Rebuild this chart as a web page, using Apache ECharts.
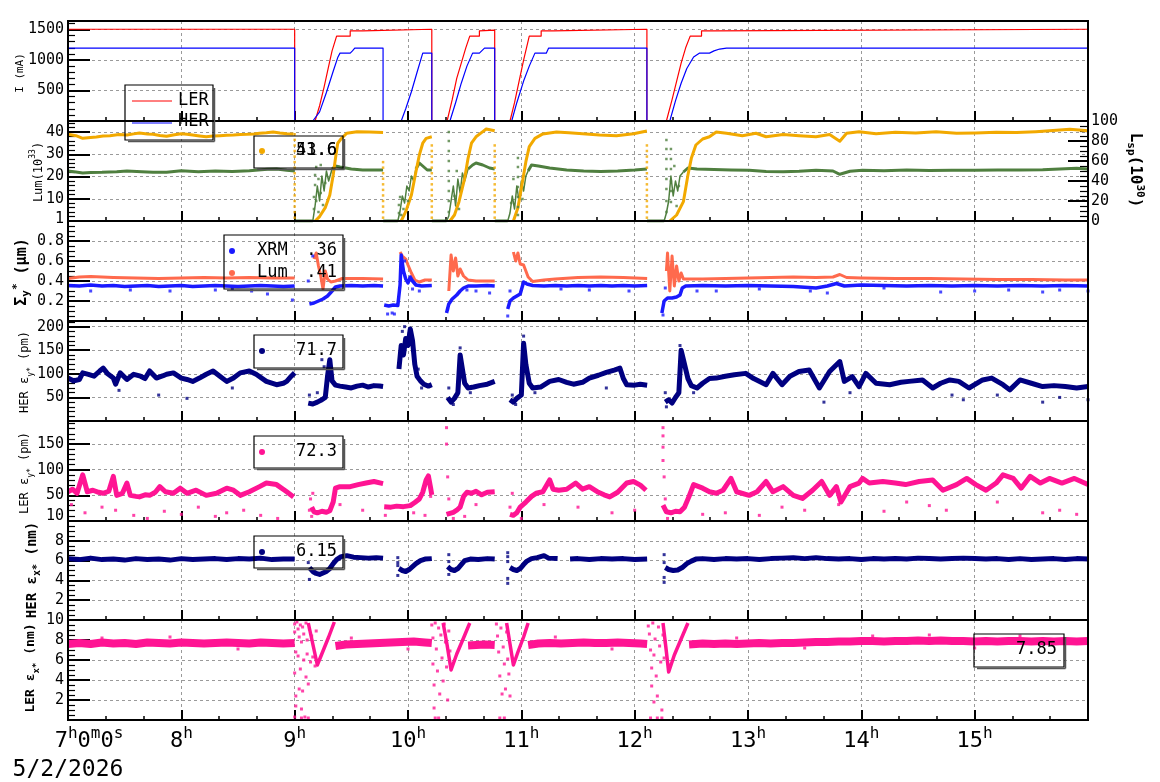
<!DOCTYPE html>
<html>
<head>
<meta charset="utf-8">
<script src="https://cdn.jsdelivr.net/npm/echarts@6/dist/echarts.min.js"></script>
<style>
html, body { margin: 0; padding: 0; background: #fff; }
#chart { width: 1160px; height: 782px; }
</style>
</head>
<body>
<div id="chart"></div>
<script>
// time axis is in hours of 5/2/2026

// beam currents (mA)
const lerCurrent = [
  [7.00,1505],[9.00,1505],[9.00,0],[9.18,0],[9.22,250],[9.26,560],[9.30,900],[9.33,1150],[9.37,1392],[9.49,1392],
  [9.49,1478],[9.60,1478],[9.60,1505],[10.21,1505],[10.21,0],[10.345,0],[10.39,350],[10.43,700],[10.47,950],[10.51,1200],
  [10.545,1392],[10.63,1392],[10.63,1478],[10.765,1490],[10.765,0],[10.90,0],[10.94,300],[10.98,650],[11.02,1000],[11.07,1392],
  [11.175,1392],[11.175,1478],[11.28,1478],[11.28,1505],[12.108,1505],[12.108,0],[12.28,0],[12.33,350],[12.37,650],[12.41,950],
  [12.45,1200],[12.49,1392],[12.59,1392],[12.59,1478],[12.69,1478],[12.69,1505],[16.00,1505]
]
const herCurrent = [
  [7.00,1195],[9.00,1195],[9.00,0],[9.16,0],[9.22,150],[9.28,468],[9.34,816],[9.38,1040],[9.40,1113],[9.49,1113],
  [9.51,1150],[9.53,1195],[9.78,1195],[9.78,0],[9.94,0],[9.98,200],[10.03,480],[10.08,800],[10.13,1113],[10.21,1113],
  [10.21,0],[10.37,0],[10.42,300],[10.47,620],[10.52,900],[10.57,1113],[10.63,1113],[10.675,1195],[10.765,1195],[10.765,0],
  [10.915,0],[10.96,300],[11.02,655],[11.07,900],[11.12,1113],[11.22,1113],[11.24,1195],[12.108,1195],[12.108,0],[12.31,0],
  [12.36,330],[12.41,620],[12.46,860],[12.52,1050],[12.57,1113],[12.66,1113],[12.70,1150],[12.75,1180],[12.81,1195],[16.00,1195]
]

// luminosity (10^33, left) and specific luminosity (10^30, right)
const lumValues = [
  [7.0,39.0],[7.07,38.4],[7.13,37.2],[7.2,37.6],[7.25,37.8],[7.31,38.2],[7.37,38.4],[7.45,38.9],[7.52,38.7],[7.58,39.2],
  [7.63,39.6],[7.7,39.2],[7.75,39.0],[7.81,38.5],[7.87,38.1],[7.94,38.8],[8.0,39.3],[8.05,39.0],[8.1,38.7],[8.16,38.3],
  [8.22,37.9],[8.28,38.2],[8.34,38.4],[8.4,38.6],[8.46,38.7],[8.52,38.9],[8.58,39.0],[8.64,39.2],[8.69,39.5],[8.75,39.7],
  [8.81,40.0],[8.87,39.6],[8.93,39.3],[8.99,39.1],[9.0,null],
  [9.18,0],[9.22,2],[9.27,6],[9.31,11.7],[9.34,20.7],[9.36,28.2],[9.38,35],[9.41,37],[9.46,39.5],[9.55,40.2],[9.66,40],[9.78,39.8],[9.79,null],
  [9.94,0],[9.98,4.2],[10.03,11.7],[10.07,22.2],[10.1,29.7],[10.13,35],[10.16,37.2],[10.21,37.9],[10.22,null],
  [10.37,0],[10.41,2.7],[10.45,8.7],[10.5,19.2],[10.53,28.2],[10.56,35],[10.6,37.9],[10.66,40.2],[10.69,41.4],[10.765,40.6],[10.77,null],
  [10.93,0],[10.97,6],[11.01,17.7],[11.04,26.7],[11.07,33.5],[11.12,37.2],[11.19,39.2],[11.31,40],[11.42,39.7],[11.54,39.3],
  [11.69,38.7],[11.84,38.4],[11.99,39.3],[12.108,40.5],[12.11,null],
  [12.31,0],[12.37,2.7],[12.43,8.7],[12.47,20.7],[12.5,28.2],[12.54,34.2],[12.6,36.9],[12.66,37.9],[12.72,40],[12.81,39.5],
  [12.95,38.4],[13.07,39.5],[13.16,37.9],[13.31,38.9],[13.45,38.4],[13.6,37.9],[13.72,38.9],[13.81,35.9],[13.87,39.5],[13.98,40.2],
  [14.13,39.3],[14.3,39.9],[14.48,39.6],[14.66,40.2],[14.84,39.5],[15.01,39.6],[15.19,39.9],[15.37,39.8],[15.54,40.2],[15.72,40.8],
  [15.84,41.3],[16.0,40.6]
]
const lumDropTimes = [9.0, 9.78, 10.21, 10.765, 12.108]
const lumDropTops = [40, 28, 35, 36, 34]
const lumDropLevels = [1.5, 4, 6.5, 9, 11.5, 14, 16.5, 19, 21.5, 24, 26.5, 29, 31.5, 34, 36.5, 39]

const lspValues = [
  [7.0,50],[7.07,49],[7.13,48],[7.2,48.5],[7.3,48.7],[7.43,49.3],[7.52,50],[7.65,49.3],[7.75,48.7],[7.87,48.7],
  [8.0,50.3],[8.15,49.3],[8.3,50],[8.45,49.6],[8.6,50.3],[8.76,51.7],[8.84,52],[8.93,50.7],[9.0,50],[9.0005,null],
  [9.001,0],[9.16,0],[9.1605,null],[9.33,52],[9.36,55],[9.4,54],[9.5,52],[9.6,51],[9.7,51],[9.78,51],[9.7805,null],
  [9.781,0],[9.91,0],[9.9105,null],[10.07,52],[10.1,58],[10.13,55],[10.17,51],[10.21,51],[10.2105,null],
  [10.211,0],[10.34,0],[10.3405,null],[10.53,52],[10.57,56],[10.6,58],[10.66,56],[10.72,53],[10.765,52],[10.7655,null],
  [10.766,0],[10.88,0],[10.8805,null],[11.06,50],[11.09,56],[11.15,55],[11.25,53],[11.4,51],[11.55,50],[11.7,49.5],[11.85,50],
  [12.0,51],[12.108,52],[12.1085,null],
  [12.109,0],[12.26,0],[12.2605,null],[12.43,49],[12.47,53],[12.55,52],[12.7,51.5],[12.85,51],[13.01,50.7],[13.16,49.5],
  [13.31,49.3],[13.45,49.7],[13.6,50.7],[13.75,50],[13.81,46.7],[13.9,49.7],[14.01,50.7],[14.2,50.3],[14.4,51],[14.6,50.5],
  [14.8,50.7],[15.0,50.7],[15.2,51],[15.4,51],[15.6,51.2],[15.8,52.3],[15.9,52.7],[16.0,52]
]
// ramp-up periods, where the green trace is a noisy column of points
const lspRamps = [
  [9.16,0],[9.18,15],[9.2,35],[9.22,20],[9.24,45],[9.26,30],[9.28,50],[9.3,40],[9.33,52],[9.335,null],
  [9.91,0],[9.93,10],[9.95,25],[9.97,18],[9.99,35],[10.01,30],[10.03,45],[10.05,40],[10.07,52],[10.075,null],
  [10.34,0],[10.36,5],[10.38,20],[10.4,35],[10.42,15],[10.44,42],[10.46,28],[10.48,48],[10.5,40],[10.53,52],[10.535,null],
  [10.88,0],[10.9,8],[10.92,25],[10.94,12],[10.96,35],[10.98,20],[11.0,40],[11.02,30],[11.04,45],[11.06,50],[11.065,null],
  [12.26,0],[12.28,8],[12.3,20],[12.32,45],[12.34,25],[12.36,40],[12.38,30],[12.4,45],[12.43,49]
]
const lspDots = [
  [9.17,12],[9.17,24],[9.18,36],[9.18,46],[9.19,54],[9.19,20],[9.21,9],[9.21,42],[9.23,28],[9.23,56],[9.25,16],[9.27,38],
  [9.92,8],[9.92,16],[9.93,24],[9.94,6],[9.96,12],[10.0,20],
  [10.36,89],[10.36,80],[10.36,70],[10.36,60],[10.36,50],[10.36,40],[10.36,30],[10.36,20],[10.36,9],[10.41,25],[10.43,50],[10.45,12],
  [10.97,63],[10.97,54],[10.97,44],[10.97,34],[10.97,24],[10.97,14],[10.97,6],[10.91,18],[10.93,42],[11.01,22],
  [12.28,81],[12.28,72],[12.28,62],[12.28,52],[12.28,42],[12.28,32],[12.28,20],[12.28,9],
  [12.32,72],[12.32,62],[12.32,52],[12.32,40],[12.32,30],[12.32,19],[12.35,55],[12.37,15],[12.39,35]
]

// vertical beam size (um)
const xrmSigma = [
  [7.0,0.355],[7.1,0.35],[7.2,0.36],[7.3,0.35],[7.4,0.355],[7.5,0.345],[7.6,0.35],[7.7,0.355],[7.8,0.345],[7.9,0.35],
  [8.0,0.355],[8.1,0.345],[8.2,0.35],[8.3,0.355],[8.4,0.35],[8.5,0.345],[8.6,0.35],[8.7,0.355],[8.8,0.35],[8.9,0.345],
  [9.0,0.35],[9.05,null],
  [9.13,0.17],[9.17,0.18],[9.21,0.2],[9.25,0.22],[9.29,0.25],[9.33,0.3],[9.36,0.34],[9.4,0.35],[9.5,0.355],[9.6,0.35],
  [9.7,0.355],[9.78,0.35],[9.785,null],
  [9.79,0.16],[9.83,0.15],[9.87,0.16],[9.91,0.155],[9.93,0.36],[9.94,0.66],[9.96,0.5],[9.98,0.42],[10.0,0.38],[10.02,0.44],
  [10.04,0.4],[10.07,0.36],[10.12,0.35],[10.21,0.355],[10.25,null],
  [10.34,0.08],[10.36,0.17],[10.39,0.22],[10.43,0.26],[10.46,0.3],[10.49,0.33],[10.53,0.35],[10.6,0.35],[10.7,0.355],[10.765,0.35],[10.8,null],
  [10.88,0.12],[10.9,0.2],[10.93,0.23],[10.96,0.25],[10.99,0.27],[11.02,0.39],[11.05,0.37],[11.1,0.355],[11.2,0.35],[11.3,0.355],
  [11.4,0.35],[11.5,0.355],[11.6,0.35],[11.7,0.355],[11.8,0.35],[11.9,0.355],[12.0,0.35],[12.11,0.355],[12.15,null],
  [12.24,0.08],[12.26,0.2],[12.29,0.23],[12.33,0.23],[12.37,0.24],[12.4,0.26],[12.42,0.33],[12.45,0.35],[12.6,0.355],[12.8,0.35],
  [13.0,0.355],[13.2,0.35],[13.4,0.345],[13.6,0.33],[13.7,0.35],[13.78,0.375],[13.85,0.35],[14.0,0.36],[14.2,0.355],[14.4,0.35],
  [14.6,0.355],[14.8,0.35],[15.0,0.355],[15.2,0.35],[15.4,0.355],[15.6,0.35],[15.8,0.355],[16.0,0.35]
]
const xrmDots = [
  [7.2,0.3],[7.55,0.31],[7.9,0.3],[8.3,0.31],[8.45,0.32],[8.62,0.3],[8.76,0.27],[8.98,0.21],[9.12,0.4],[9.16,0.65],
  [9.82,0.07],[9.86,0.08],[9.88,0.07],[9.95,0.55],[9.97,0.6],[10.04,0.32],[10.1,0.3],[10.35,0.12],[10.52,0.31],[10.6,0.3],
  [10.72,0.28],[10.88,0.05],[10.9,0.3],[11.35,0.32],[11.6,0.31],[11.95,0.3],[12.25,0.06],[12.27,0.33],[12.55,0.3],[12.72,0.3],
  [13.1,0.32],[13.55,0.3],[13.7,0.28],[14.2,0.33],[14.7,0.29],[15.0,0.3],[15.3,0.31],[15.6,0.29],[15.75,0.31],[16.0,0.3]
]
const lumSigma = [
  [7.0,0.425],[7.1,0.44],[7.2,0.445],[7.3,0.44],[7.4,0.435],[7.6,0.43],[7.8,0.425],[8.0,0.43],[8.2,0.435],[8.4,0.43],
  [8.6,0.435],[8.8,0.43],[9.0,0.43],[9.05,null],
  [9.17,0.62],[9.19,0.68],[9.21,0.55],[9.23,0.45],[9.25,0.32],[9.27,0.5],[9.29,0.42],[9.32,0.39],[9.36,0.4],[9.42,0.425],
  [9.6,0.425],[9.78,0.42],[9.8,null],
  [9.93,0.69],[9.95,0.65],[9.98,0.62],[10.0,0.56],[10.03,0.48],[10.06,0.41],[10.1,0.39],[10.15,0.41],[10.21,0.41],[10.25,null],
  [10.36,0.3],[10.38,0.66],[10.4,0.5],[10.42,0.63],[10.44,0.45],[10.46,0.52],[10.49,0.45],[10.53,0.41],[10.6,0.4],[10.765,0.4],[10.8,null],
  [10.93,0.69],[10.95,0.6],[10.97,0.68],[10.99,0.57],[11.02,0.56],[11.06,0.44],[11.1,0.395],[11.2,0.41],[11.3,0.42],[11.5,0.435],
  [11.7,0.44],[11.9,0.435],[12.11,0.425],[12.15,null],
  [12.28,0.5],[12.29,0.68],[12.31,0.3],[12.33,0.65],[12.35,0.35],[12.37,0.55],[12.39,0.4],[12.41,0.48],[12.43,0.42],[12.6,0.42],
  [12.8,0.425],[13.0,0.43],[13.2,0.435],[13.4,0.44],[13.6,0.435],[13.75,0.44],[13.81,0.465],[13.87,0.435],[14.0,0.43],[14.3,0.425],
  [14.6,0.425],[14.9,0.42],[15.2,0.415],[15.5,0.415],[15.8,0.41],[16.0,0.41]
]

// HER vertical emittance (pm)
const herEy = [
  [7.0,91],[7.05,85],[7.1,88],[7.13,102],[7.18,99],[7.23,95],[7.28,106],[7.31,112],[7.35,100],[7.4,91],[7.42,78],[7.46,102],
  [7.52,88],[7.58,99],[7.64,95],[7.68,90],[7.72,106],[7.78,91],[7.84,96],[7.87,99],[7.93,102],[8.0,91],[8.05,88],[8.1,84],
  [8.16,91],[8.22,99],[8.28,106],[8.34,95],[8.4,84],[8.46,91],[8.52,102],[8.6,106],[8.66,99],[8.75,84],[8.84,77],[8.9,80],
  [8.93,84],[8.97,95],[9.0,102],[9.01,null],
  [9.12,38],[9.16,36],[9.2,40],[9.24,45],[9.27,50],[9.29,95],[9.31,130],[9.33,85],[9.36,76],[9.4,74],[9.45,72],[9.5,70],
  [9.55,74],[9.6,76],[9.65,72],[9.7,75],[9.75,74],[9.78,73],[9.79,null],
  [9.92,110],[9.94,160],[9.96,140],[9.98,175],[10.0,160],[10.02,195],[10.04,170],[10.06,120],[10.08,95],[10.11,85],[10.14,78],
  [10.18,74],[10.21,77],[10.22,null],
  [10.35,50],[10.38,40],[10.41,48],[10.44,60],[10.46,140],[10.48,110],[10.5,80],[10.53,70],[10.58,72],[10.63,75],[10.7,78],[10.765,84],[10.77,null],
  [10.9,45],[10.93,40],[10.96,48],[11.0,55],[11.02,165],[11.04,120],[11.07,80],[11.1,70],[11.17,72],[11.25,84],[11.33,88],
  [11.4,82],[11.46,78],[11.54,82],[11.6,91],[11.68,97],[11.75,103],[11.82,108],[11.87,112],[11.9,90],[11.93,77],[12.0,76],
  [12.05,78],[12.11,76],[12.12,null],
  [12.27,40],[12.3,45],[12.33,38],[12.36,50],[12.39,60],[12.41,150],[12.43,130],[12.45,110],[12.47,90],[12.5,75],[12.55,70],
  [12.6,80],[12.66,90],[12.72,91],[12.8,95],[12.88,98],[12.98,101],[13.05,90],[13.16,77],[13.22,101],[13.3,77],[13.37,95],
  [13.45,105],[13.54,108],[13.63,70],[13.72,105],[13.81,126],[13.85,84],[13.92,94],[13.98,73],[14.04,101],[14.13,80],[14.25,77],
  [14.35,82],[14.42,84],[14.54,87],[14.63,70],[14.7,80],[14.78,87],[14.86,84],[14.95,70],[15.07,87],[15.15,91],[15.25,77],
  [15.31,66],[15.4,87],[15.5,80],[15.6,73],[15.7,75],[15.8,73],[15.9,70],[16.0,73]
]
const herEyDots = [
  [7.45,65],[7.8,55],[8.05,48],[8.45,70],[9.13,55],[9.2,60],[9.24,130],[9.26,115],[9.93,130],[9.95,190],[9.97,200],
  [10.01,185],[10.05,140],[10.09,110],[10.12,70],[10.36,70],[10.4,35],[10.46,155],[10.47,125],[10.55,60],[10.92,55],
  [10.95,35],[11.02,180],[11.03,140],[11.12,60],[11.75,70],[12.27,60],[12.28,30],[12.4,160],[12.42,140],[12.46,100],
  [12.52,60],[13.67,40],[13.9,60],[14.8,55],[14.9,45],[15.2,55],[15.6,40],[15.75,50],[16.0,45]
]

// LER vertical emittance (pm)
const lerEy = [
  [7.0,57],[7.04,62],[7.08,54],[7.13,90],[7.17,57],[7.22,60],[7.27,56],[7.31,54],[7.36,58],[7.4,87],[7.43,50],[7.48,54],
  [7.52,74],[7.55,50],[7.6,48],[7.63,47],[7.68,51],[7.72,50],[7.77,56],[7.81,67],[7.86,57],[7.93,54],[7.99,64],[8.05,54],
  [8.13,60],[8.22,50],[8.31,54],[8.4,64],[8.46,60],[8.52,50],[8.6,57],[8.69,67],[8.75,74],[8.84,71],[8.93,57],[8.99,47],[9.0,null],
  [9.15,27],[9.17,18],[9.2,16],[9.24,19],[9.28,17],[9.31,20],[9.34,37],[9.36,64],[9.4,67],[9.49,67],[9.56,71],[9.63,74],
  [9.7,77],[9.78,73],[9.785,null],
  [9.79,28],[9.85,27],[9.9,29],[9.96,28],[10.02,30],[10.06,36],[10.1,43],[10.13,56],[10.16,80],[10.18,88],[10.2,64],[10.21,51],[10.22,null],
  [10.34,13],[10.37,15],[10.4,17],[10.43,21],[10.46,27],[10.49,48],[10.52,56],[10.56,54],[10.6,58],[10.65,51],[10.7,56],[10.765,57],[10.77,null],
  [10.9,13],[10.93,11],[10.96,16],[10.99,27],[11.04,37],[11.09,48],[11.13,54],[11.19,57],[11.25,80],[11.28,62],[11.33,60],
  [11.4,62],[11.48,74],[11.54,62],[11.6,67],[11.68,56],[11.73,51],[11.78,47],[11.85,56],[11.93,74],[11.99,77],[12.05,70],
  [12.1,60],[12.11,null],
  [12.25,31],[12.28,18],[12.32,16],[12.36,19],[12.4,18],[12.44,27],[12.48,48],[12.52,71],[12.6,64],[12.66,57],[12.72,54],
  [12.78,60],[12.85,83],[12.9,57],[13.01,50],[13.08,57],[13.16,77],[13.22,57],[13.31,67],[13.4,50],[13.48,44],[13.57,60],
  [13.65,77],[13.72,50],[13.78,67],[13.82,37],[13.9,67],[13.98,74],[14.01,83],[14.07,74],[14.19,77],[14.3,74],[14.39,71],
  [14.51,77],[14.63,80],[14.72,60],[14.84,71],[14.93,83],[15.01,71],[15.1,60],[15.19,74],[15.25,90],[15.34,83],[15.41,64],
  [15.49,87],[15.58,74],[15.66,83],[15.77,74],[15.88,83],[16.0,71]
]
const lerEyDots = [
  [7.03,32],[7.15,16],[7.3,27],[7.42,21],[7.58,11],[7.7,5],[7.85,19],[8.0,13],[8.15,27],[8.3,9],[8.4,16],[8.55,21],
  [8.7,11],[8.85,5],[9.13,21],[9.14,43],[9.15,9],[9.16,54],[9.4,32],[9.6,21],[9.8,11],[10.05,16],[10.15,11],[10.2,48],
  [10.34,182],[10.34,150],[10.35,86],[10.36,43],[10.4,5],[10.5,9],[10.6,32],[10.9,27],[10.92,54],[11.0,5],[11.2,32],
  [11.5,27],[11.8,16],[12.0,21],[12.25,182],[12.25,166],[12.25,144],[12.25,118],[12.26,86],[12.27,43],[12.29,5],[12.6,13],
  [12.8,16],[13.1,11],[13.3,27],[13.5,21],[13.8,32],[14.2,19],[14.4,37],[14.6,30],[14.75,21],[15.2,37],[15.6,16],
  [15.75,21],[15.9,13]
]

// HER horizontal emittance (nm)
const herEx = [
  [7.0,6.2],[7.1,6.1],[7.2,6.25],[7.3,6.1],[7.4,6.15],[7.5,6.05],[7.6,6.2],[7.7,6.1],[7.8,6.15],[7.9,6.05],[8.0,6.2],
  [8.1,6.1],[8.2,6.15],[8.3,6.2],[8.4,6.1],[8.5,6.2],[8.6,6.15],[8.7,6.25],[8.8,6.1],[8.9,6.15],[9.0,6.15],[9.01,null],
  [9.13,5.3],[9.16,4.9],[9.19,4.7],[9.22,4.6],[9.25,4.75],[9.28,4.9],[9.31,5.2],[9.34,5.7],[9.37,6.1],[9.41,6.4],[9.46,6.5],
  [9.52,6.35],[9.58,6.3],[9.65,6.25],[9.72,6.3],[9.78,6.25],[9.79,null],
  [9.92,5.2],[9.95,5.0],[9.98,4.9],[10.01,5.1],[10.04,5.4],[10.07,5.7],[10.11,6.0],[10.15,6.15],[10.21,6.2],[10.22,null],
  [10.35,5.4],[10.38,5.1],[10.41,5.0],[10.44,5.2],[10.47,5.6],[10.5,6.0],[10.55,6.15],[10.62,6.1],[10.7,6.2],[10.765,6.15],[10.77,null],
  [10.9,5.3],[10.93,5.1],[10.96,5.0],[10.99,5.2],[11.02,5.6],[11.05,5.95],[11.09,6.2],[11.14,6.3],[11.2,6.5],[11.24,6.25],
  [11.32,6.2],[11.33,null],
  [11.43,6.15],[11.5,6.2],[11.6,6.1],[11.7,6.2],[11.8,6.15],[11.9,6.2],[12.0,6.1],[12.11,6.15],[12.12,null],
  [12.27,5.3],[12.3,5.1],[12.34,5.0],[12.38,5.05],[12.42,5.3],[12.46,5.7],[12.5,5.95],[12.54,6.15],[12.6,6.2],[12.7,6.1],
  [12.8,6.2],[12.9,6.15],[13.0,6.2],[13.1,6.1],[13.2,6.2],[13.3,6.25],[13.4,6.3],[13.5,6.2],[13.6,6.3],[13.7,6.2],[13.8,6.15],
  [13.9,6.2],[14.0,6.1],[14.1,6.2],[14.2,6.15],[14.3,6.2],[14.4,6.15],[14.5,6.25],[14.6,6.2],[14.7,6.15],[14.8,6.2],[14.9,6.25],
  [15.0,6.2],[15.1,6.15],[15.2,6.2],[15.3,6.1],[15.4,6.2],[15.5,6.1],[15.6,6.15],[15.7,6.2],[15.8,6.1],[15.9,6.2],[16.0,6.15]
]
const herExDots = [
  [9.12,5.8],[9.13,4.1],[9.91,6.3],[9.91,5.8],[9.91,5.5],[9.91,4.5],[10.36,6.6],[10.36,5.9],[10.36,4.6],
  [10.88,6.8],[10.88,6.4],[10.88,5.9],[10.88,4.2],[10.88,3.7],[12.26,6.6],[12.26,5.8],[12.26,4.3],[12.26,3.8]
]

// LER horizontal emittance (nm)
const lerEx = [
  [7.0,7.6],[7.1,7.7],[7.2,7.6],[7.3,7.75],[7.4,7.65],[7.5,7.7],[7.6,7.6],[7.7,7.75],[7.8,7.7],[7.9,7.65],[8.0,7.75],
  [8.1,7.7],[8.2,7.65],[8.3,7.7],[8.4,7.75],[8.5,7.7],[8.6,7.65],[8.7,7.75],[8.8,7.7],[8.9,7.65],[9.0,7.7],[9.01,null],
  [9.36,7.4],[9.45,7.55],[9.55,7.6],[9.65,7.65],[9.75,7.7],[9.85,7.75],[9.95,7.8],[10.05,7.85],[10.15,7.75],[10.21,7.7],[10.22,null],
  [10.53,7.45],[10.6,7.5],[10.68,7.55],[10.765,7.5],[10.77,null],
  [11.06,7.5],[11.15,7.65],[11.25,7.7],[11.35,7.65],[11.45,7.7],[11.55,7.75],[11.65,7.7],[11.75,7.7],[11.85,7.75],[11.95,7.7],
  [12.05,7.65],[12.11,7.6],[12.12,null],
  [12.48,7.55],[12.6,7.65],[12.7,7.6],[12.8,7.65],[12.9,7.6],[13.0,7.65],[13.1,7.7],[13.2,7.65],[13.3,7.7],[13.4,7.7],
  [13.5,7.75],[13.6,7.8],[13.7,7.8],[13.8,7.85],[13.9,7.85],[14.0,7.9],[14.1,7.9],[14.2,7.85],[14.3,7.9],[14.4,7.9],
  [14.5,7.95],[14.6,7.9],[14.7,7.95],[14.8,7.9],[14.9,7.9],[15.0,7.85],[15.1,7.9],[15.2,7.85],[15.3,7.9],[15.4,7.9],
  [15.5,7.85],[15.6,7.9],[15.7,7.85],[15.8,7.9],[15.9,7.85],[16.0,7.9]
]
const lerExRamps = [
  [9.12,9.7],[9.16,7.6],[9.2,5.5],[9.25,6.9],[9.3,8.3],[9.35,9.8],[9.351,null],
  [10.31,9.7],[10.345,7.5],[10.38,5.0],[10.43,6.6],[10.49,8.2],[10.545,9.7],[10.546,null],
  [10.87,9.7],[10.9,7.6],[10.93,5.5],[10.97,6.8],[11.02,8.3],[11.06,9.7],[11.061,null],
  [12.25,9.7],[12.275,7.3],[12.3,4.8],[12.35,6.5],[12.41,8.1],[12.47,9.7]
]
const lerExDots = [
  [9.0,9.6],[9.0,8.8],[9.01,6.8],[9.0,4.7],[9.01,2.4],[9.01,1.4],[9.0,0.3],[9.02,9.8],[9.03,9.1],[9.03,6.4],[9.04,8.3],
  [9.04,3.1],[9.05,9.5],[9.05,5.1],[9.06,7.8],[9.06,1.1],[9.07,9.3],[9.07,2.9],[9.08,8.6],[9.08,6.0],[9.09,0.3],[9.1,9.7],
  [9.1,4.3],[9.11,8.0],[9.11,6.6],[9.12,3.6],[9.13,9.1],[9.14,5.8],[9.15,8.4],[9.16,6.3],[9.18,5.4],[9.19,8.9],[9.06,0.2],[9.12,0.2],
  [10.21,9.5],[10.22,8.2],[10.22,5.6],[10.23,3.5],[10.23,1.2],[10.24,9.7],[10.25,7.1],[10.26,4.9],[10.27,9.2],[10.28,2.6],
  [10.29,8.5],[10.3,6.2],[10.31,3.9],[10.32,9.6],[10.33,7.8],[10.34,5.3],[10.35,2.0],[10.36,8.9],[10.37,6.9],[10.24,0.2],[10.27,0.2],
  [10.78,9.6],[10.79,8.4],[10.8,6.8],[10.81,4.4],[10.82,9.2],[10.83,2.6],[10.84,7.3],[10.85,5.6],[10.86,3.1],[10.87,8.8],
  [10.88,6.1],[10.89,4.6],[10.9,2.4],[10.81,0.2],[10.85,0.2],
  [12.12,9.4],[12.13,8.6],[12.14,7.0],[12.15,5.2],[12.15,3.4],[12.16,9.7],[12.17,6.5],[12.17,1.8],[12.18,8.1],[12.19,4.4],
  [12.2,2.4],[12.21,9.3],[12.22,7.4],[12.23,5.8],[12.24,1.0],[12.25,8.5],[12.26,6.2],[12.27,7.8],[12.14,0.2],[12.2,0.2],[12.24,0.2],
  [7.3,8.2],[7.9,8.3],[8.5,7.1],[9.5,8.2],[10.0,7.1],[11.3,8.3],[11.8,7.1],[12.9,8.2],[13.5,7.2],[14.1,8.4],[14.6,8.5],
  [15.0,7.2],[15.4,8.4]
]

// ---- layout ----
const FONT = 'DejaVu Sans Mono'
const panelTop = [21, 121, 221, 321, 421, 521, 620]
const panelH = [100, 100, 100, 100, 100, 99, 100]
const C = {
  ler: '#ff0000', her: '#0000ff', lum: '#f2a900', lsp: '#4f7f3f',
  xrm: '#1a1aff', lumS: '#ff6a4d', navy: '#000080', pink: '#ff1493'
}

const yAxisSpec = [
  { min: 0, max: 1640, interval: 500, minor: 5, hideMin: true, hideMax: true },
  { min: 0, max: 45, interval: 10, minor: 5, labels: [1, 10, 20, 30, 40] },
  { min: 0, max: 1, interval: 0.2, minor: 4, hideMin: true, hideMax: true },
  { min: 0, max: 212, interval: 50, minor: 5, hideMin: true, hideMax: true },
  { min: 0, max: 195, interval: 50, minor: 5, labels: [10, 50, 100, 150] },
  { min: 0, max: 10, interval: 2, minor: 4, hideMin: true, hideMax: true },
  { min: 0, max: 10, interval: 2, minor: 4, hideMin: true, hideMax: false }
]
const plainNumber = v => String(+(+v).toFixed(4))

const grid = panelTop.map((t, i) => ({
  left: 68, right: 72, top: t, height: panelH[i],
  show: true, borderColor: '#000', borderWidth: 2, backgroundColor: 'transparent', z: 10
}))

const xAxis = panelTop.map((t, i) => ({
  type: 'value', gridIndex: i, min: 7, max: 16, interval: 1,
  axisLine: { show: false },
  axisTick: { inside: true, length: 10, lineStyle: { color: '#000', width: 2 } },
  minorTick: { show: true, splitNumber: 3, length: 4, lineStyle: { color: '#000', width: 1.5 } },
  splitLine: { show: true, lineStyle: { color: '#9a9a9a', type: [3, 3], width: 1 } },
  axisLabel: i === 6 ? {
    show: true, margin: 6, color: '#000', showMaxLabel: false,
    formatter: v => v === 7
      ? '{sp| }{n|7}{s|h}{n|0}{s|m}{n|0}{s|s}\n{d|5/2/2026}'
      : '{n|' + v + '}{s|h}',
    rich: {
      sp: { width: 42 },
      n: { fontFamily: FONT, fontSize: 22, lineHeight: 30, color: '#000' },
      s: { fontFamily: FONT, fontSize: 16, lineHeight: 16, verticalAlign: 'top', color: '#000' },
      d: { fontFamily: FONT, fontSize: 23, lineHeight: 28, color: '#000' }
    }
  } : { show: false }
}))

const yAxis = yAxisSpec.map((s, i) => ({
  type: 'value', gridIndex: i, min: s.min, max: s.max, interval: s.interval,
  axisLine: { show: false },
  axisTick: { inside: true, length: 22, lineStyle: { color: '#000', width: 2 } },
  minorTick: { show: true, splitNumber: s.minor, length: 7, lineStyle: { color: '#000', width: 1.2 } },
  splitLine: { show: true, lineStyle: { color: '#9a9a9a', type: [3, 3], width: 1 } },
  axisLabel: Object.assign({
    color: '#000', fontFamily: FONT, fontSize: 15, margin: 4, formatter: plainNumber,
    showMinLabel: !s.hideMin, showMaxLabel: !s.hideMax
  }, s.labels ? { customValues: s.labels } : {})
}))
// right axis of the luminosity panel
yAxis.push({
  type: 'value', gridIndex: 1, position: 'right', min: 0, max: 100, interval: 20,
  axisLine: { show: false },
  axisTick: { inside: true, length: 20, lineStyle: { color: '#000', width: 2 } },
  minorTick: { show: true, splitNumber: 4, length: 8, lineStyle: { color: '#000', width: 1.2 } },
  splitLine: { show: false },
  axisLabel: { color: '#000', fontFamily: FONT, fontSize: 15, margin: 3, formatter: plainNumber }
})

function line(data, xi, yi, color, width) {
  return {
    type: 'line', xAxisIndex: xi, yAxisIndex: yi, data, showSymbol: false, symbol: 'none',
    connectNulls: false, lineStyle: { color, width, join: 'round' }, itemStyle: { color }, z: 2
  }
}
function dots(data, xi, yi, color, size) {
  return {
    type: 'scatter', xAxisIndex: xi, yAxisIndex: yi, data, symbol: 'rect', symbolSize: size,
    itemStyle: { color }, z: 3
  }
}

const lumDrops = []
lumDropTimes.forEach((t, k) => {
  lumDropLevels.forEach(v => { if (v <= lumDropTops[k]) lumDrops.push([t, v]) })
})

const series = [
  line(lerCurrent, 0, 0, C.ler, 1.2),
  line(herCurrent, 0, 0, C.her, 1.2),
  line(lspValues, 1, 7, C.lsp, 3),
  line(lspRamps, 1, 7, C.lsp, 1.5),
  dots(lspDots, 1, 7, C.lsp, 2.5),
  line(lumValues, 1, 1, C.lum, 3),
  dots(lumDrops, 1, 1, C.lum, 2.5),
  line(lumSigma, 2, 2, C.lumS, 3),
  line(xrmSigma, 2, 2, C.xrm, 3.5),
  dots(xrmDots, 2, 2, C.xrm, 3),
  line(herEy, 3, 3, C.navy, 5),
  dots(herEyDots, 3, 3, C.navy, 3),
  line(lerEy, 4, 4, C.pink, 5),
  dots(lerEyDots, 4, 4, C.pink, 3),
  line(herEx, 5, 5, C.navy, 5),
  dots(herExDots, 5, 5, C.navy, 3),
  line(lerEx, 6, 6, C.pink, 8),
  line(lerExRamps, 6, 6, C.pink, 3.5),
  dots(lerExDots, 6, 6, C.pink, 3)
]

// legends and axis titles
const legFont = { fontFamily: FONT, fontSize: 17, fill: '#000' }
function box(x, y, w, h) {
  return [
    { type: 'line', z: 50, shape: { x1: x + w + 1.5, y1: y + 3, x2: x + w + 1.5, y2: y + h + 1.5 }, style: { stroke: '#555', lineWidth: 1.5 } },
    { type: 'line', z: 50, shape: { x1: x + 3, y1: y + h + 1.5, x2: x + w + 1.5, y2: y + h + 1.5 }, style: { stroke: '#555', lineWidth: 1.5 } },
    { type: 'rect', z: 50, shape: { x, y, width: w, height: h }, style: { fill: 'none', stroke: '#000', lineWidth: 1.2 } }
  ]
}
function txt(x, y, text, align) {
  return { type: 'text', z: 51, x, y, style: Object.assign({ text, align: align || 'right', verticalAlign: 'middle' }, legFont) }
}
function dot(x, y, color) {
  return { type: 'circle', z: 51, shape: { cx: x, cy: y, r: 3 }, style: { fill: color } }
}
function seg(x1, x2, y, color) {
  return { type: 'line', z: 51, shape: { x1, y1: y, x2, y2: y }, style: { stroke: color, lineWidth: 1 } }
}
const richName = (size, bold) => ({
  m: { fontFamily: FONT, fontSize: size, fontWeight: bold ? 'bold' : 'normal', lineHeight: 20, color: '#000' },
  sup: { fontFamily: FONT, fontSize: Math.round(size * 0.7), fontWeight: bold ? 'bold' : 'normal', verticalAlign: 'top', lineHeight: 10, color: '#000' },
  sub: { fontFamily: FONT, fontSize: Math.round(size * 0.7), fontWeight: bold ? 'bold' : 'normal', verticalAlign: 'bottom', lineHeight: 10, color: '#000' }
})
function name(x, y, text, size, bold, rot) {
  return { type: 'text', z: 51, x, y, rotation: rot === undefined ? Math.PI / 2 : rot,
    style: { text, rich: richName(size, bold), align: 'center', verticalAlign: 'middle' } }
}

const graphic = [].concat(
  box(125, 85, 88, 55), [seg(132, 172, 101, C.ler), seg(132, 172, 123, C.her),
  txt(178, 101, 'LER', 'left'), txt(178, 122, 'HER', 'left')],
  box(254, 136, 89, 32), [dot(262, 151, C.lum), txt(337, 151, '53.6'), txt(337, 151, '41.6')],
  box(224, 235, 119, 54), [dot(232, 251, C.xrm), dot(232, 273, C.lumS),
  txt(257, 251, 'XRM', 'left'), txt(257, 273, 'Lum', 'left'), txt(337, 251, '.36'), txt(337, 273, '.41')],
  box(254, 335, 89, 33), [dot(262, 351, C.navy), txt(337, 351, '71.7')],
  box(254, 436, 89, 32), [dot(262, 452, C.pink), txt(337, 452, '72.3')],
  box(254, 536, 89, 32), [dot(262, 552, C.navy), txt(337, 552, '6.15')],
  box(974, 634, 90, 33), [txt(1057, 650, '7.85')],
  [
    name(20, 73, '{m|I (mA)}', 11, false),
    name(39, 172, '{m|Lum(10}{sup|33}{m|)}', 12, false),
    name(22, 272, '{m|Σ}{sub|y}{sup|*}{m| (μm)}', 15, true),
    name(25, 372, '{m|HER ε}{sub|y*}{m| (pm)}', 12, false),
    name(25, 473, '{m|LER ε}{sub|y*}{m| (pm)}', 12, false),
    name(32, 570, '{m|HER ε}{sub|x*}{m| (nm)}', 14, true),
    name(31, 668, '{m|LER ε}{sub|x*}{m| (nm)}', 13, true),
    name(1135, 170, '{m|L}{sub|sp}{m|(10}{sup|30}{m|)}', 16, true, -Math.PI / 2)
  ]
)

const chart = echarts.init(document.getElementById('chart'))
chart.setOption({
  animation: false,
  backgroundColor: '#fff',
  grid, xAxis, yAxis, series, graphic
})
</script>
</body>
</html>
